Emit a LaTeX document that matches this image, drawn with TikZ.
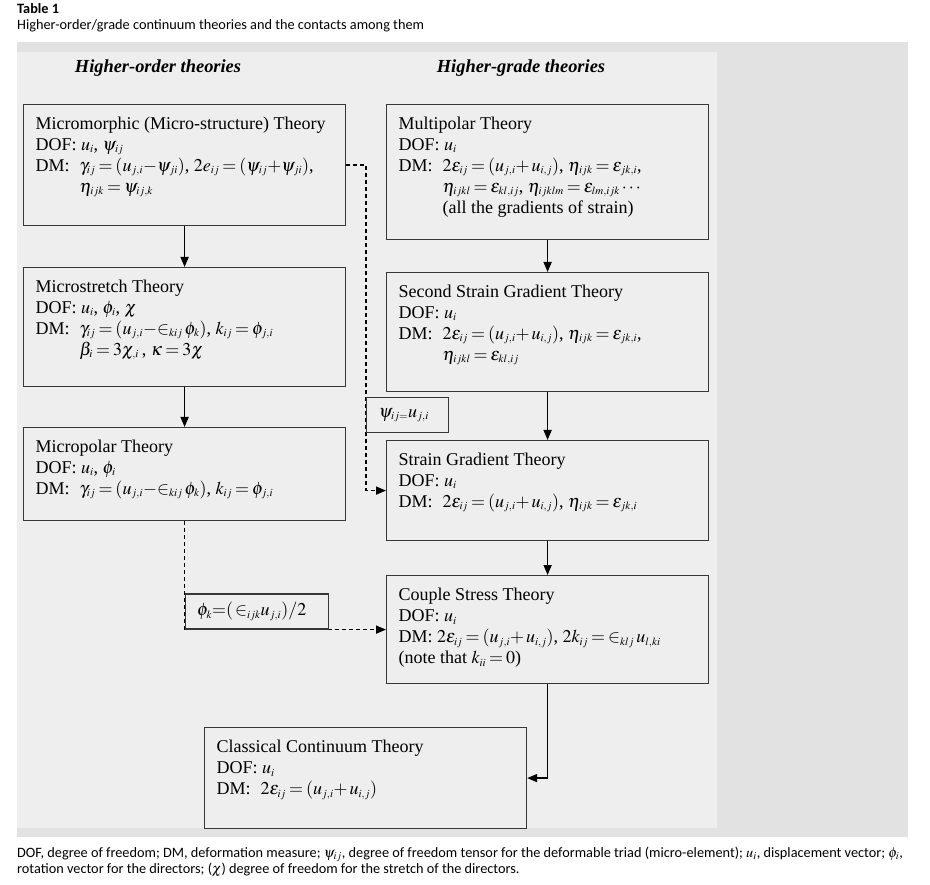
\documentclass[tikz,border=0pt]{standalone}
\usepackage{mathptmx}
\usepackage{fontspec}
\setmainfont{Liberation Serif}
\newfontfamily\capfont{Carlito}
\usepackage{xcolor}
\definecolor{myband}{RGB}{226,226,226}
\definecolor{mypanel}{RGB}{237,238,237}
\definecolor{myline}{RGB}{55,55,55}
\usepackage{tikz}
\usetikzlibrary{calc}
\usetikzlibrary{arrows.meta}
\DeclareMathSizes{18}{18}{11}{8}
\thickmuskip=3mu plus 2mu
\newcommand{\thbox}[3]{\begin{minipage}[t][#2pt][t]{#1pt}\raggedright\strut #3\end{minipage}}
\newcommand{\DM}{\makebox[44pt][l]{DM:}}
\newcommand{\ind}{\hspace*{44pt}}

\begin{document}
\begin{tikzpicture}[x=1pt,y=-1pt]
	\tikzstyle{theory}=[draw=myline,fill=mypanel,line width=1.2pt,anchor=north west,inner xsep=12pt,inner ysep=10pt,font=\fontsize{18}{21}\selectfont];
	\tikzstyle{rel}=[draw=myline,fill=mypanel,line width=1.2pt,inner xsep=12pt,minimum height=35pt,align=left,font=\fontsize{18}{21}\selectfont];
	\tikzstyle{flow}=[line width=1.6pt,-{Triangle[length=10pt,width=8pt]}];
	\tikzstyle{link}=[line width=1.5pt,line cap=butt,dash pattern=on 4pt off 3pt,-{Triangle[length=10pt,width=8pt]}];
	\tikzstyle{head}=[font=\fontsize{18.4}{21}\selectfont\bfseries\itshape];
	\tikzstyle{note}=[anchor=base west,inner sep=0,font=\capfont\fontsize{14.3}{16}\selectfont];
	%%
	\useasboundingbox[fill=white] (0,0) rectangle (930,885);
	\path[fill=myband]  (17,42) rectangle (908,837);
	\path[fill=mypanel] (17,52) rectangle (717,828);
	%%
	\node[note] (cap1) at (17,14) {\textbf{Table 1}};
	\node[note] (cap2) at (17,30) {Higher-order/grade continuum theories and the contacts among them};
	\node[head] (HO) at (158,68) {Higher-order theories};
	\node[head] (HG) at (521,68) {Higher-grade theories};
	%%
	\node[theory] (MM) at (23,104) {\thbox{298}{101}{Micromorphic (Micro-structure) Theory\\
		DOF: $u_i$, $\psi_{ij}$\\
		\DM$\gamma_{ij}=(u_{j,i}{-}\psi_{ji})$, $2e_{ij}=(\psi_{ij}{+}\psi_{ji})$,\\
		\ind$\eta_{ijk}=\psi_{ij,k}$}};
	\node[theory] (MS) at (23,267) {\thbox{298}{99}{Microstretch Theory\\
		DOF: $u_i$, $\phi_i$, $\chi$\\
		\DM$\gamma_{ij}=(u_{j,i}{-}{\in_{kij}}\,\phi_k)$, $k_{ij}=\phi_{j,i}$\\
		\ind$\beta_i=3\chi_{,i}$\,, $\kappa=3\chi$}};
	\node[theory] (MP) at (23,427) {\thbox{298}{73}{Micropolar Theory\\
		DOF: $u_i$, $\phi_i$\\
		\DM$\gamma_{ij}=(u_{j,i}{-}{\in_{kij}}\,\phi_k)$, $k_{ij}=\phi_{j,i}$}};
	%%
	\node[theory] (MU) at (386,104) {\thbox{298}{115}{Multipolar Theory\\
		DOF: $u_i$\\
		\DM$2\varepsilon_{ij}=(u_{j,i}{+}\,u_{i,j})$, $\eta_{ijk}=\varepsilon_{jk,i}$,\\
		\ind$\eta_{ijkl}=\varepsilon_{kl,ij}$, $\eta_{ijklm}=\varepsilon_{lm,ijk}\cdots$\\
		\ind(all the gradients of strain)}};
	\node[theory] (SS) at (386,272) {\thbox{298}{99}{Second Strain Gradient Theory\\
		DOF: $u_i$\\
		\DM$2\varepsilon_{ij}=(u_{j,i}{+}\,u_{i,j})$, $\eta_{ijk}=\varepsilon_{jk,i}$,\\
		\ind$\eta_{ijkl}=\varepsilon_{kl,ij}$}};
	\node[theory] (SG) at (386,440) {\thbox{298}{80}{Strain Gradient Theory\\
		DOF: $u_i$\\
		\DM$2\varepsilon_{ij}=(u_{j,i}{+}\,u_{i,j})$, $\eta_{ijk}=\varepsilon_{jk,i}$}};
	\node[theory] (CS) at (386,575) {\thbox{298}{88}{Couple Stress Theory\\
		DOF: $u_i$\\
		DM: $2\varepsilon_{ij}=(u_{j,i}{+}\,u_{i,j})$, $2k_{ij}={\in_{klj}}\,u_{l,ki}$\\
		(note that $k_{ii}=0$)}};
	\node[theory] (CC) at (204,727) {\thbox{298}{81}{Classical Continuum Theory\\
		DOF: $u_i$\\
		\DM$2\varepsilon_{ij}=(u_{j,i}{+}\,u_{i,j})$}};
	%%
	\coordinate (bend) at ($(MM.east)+(20,0)$);
	\draw[link] (MM.east) -- (bend) |- (SG.west);
	\draw[link] (MP.south) |- (CS.west);
	%%
	\node[rel,anchor=north west,text width=58pt] (PSI) at (bend |- 0,397) {$\psi_{ij=}u_{j,i}$};
	\node[rel,anchor=south west,text width=119pt] (PHI) at (MP.south |- CS.west) {$\phi_k{=}(\,{\in_{ijk}}u_{j,i})/2$};
	%%
	\draw[flow] (MM.south) -- (MM.south |- MS.north);
	\draw[flow] (MS.south) -- (MS.south |- MP.north);
	\draw[flow] (MU.south) -- (MU.south |- SS.north);
	\draw[flow] (SS.south) -- (SS.south |- SG.north);
	\draw[flow] (SG.south) -- (SG.south |- CS.north);
	\draw[flow] (CS.south) |- (CC.east);
	%%
	\node[note] (foot1) at (17,857) {DOF, degree of freedom; DM, deformation measure; $\psi_{ij}$, degree of freedom tensor for the deformable triad (micro-element); $u_i$, displacement vector; $\phi_i$,};
	\node[note] (foot2) at (17,873) {rotation vector for the directors; ($\chi$) degree of freedom for the stretch of the directors.};
\end{tikzpicture}
\end{document}
